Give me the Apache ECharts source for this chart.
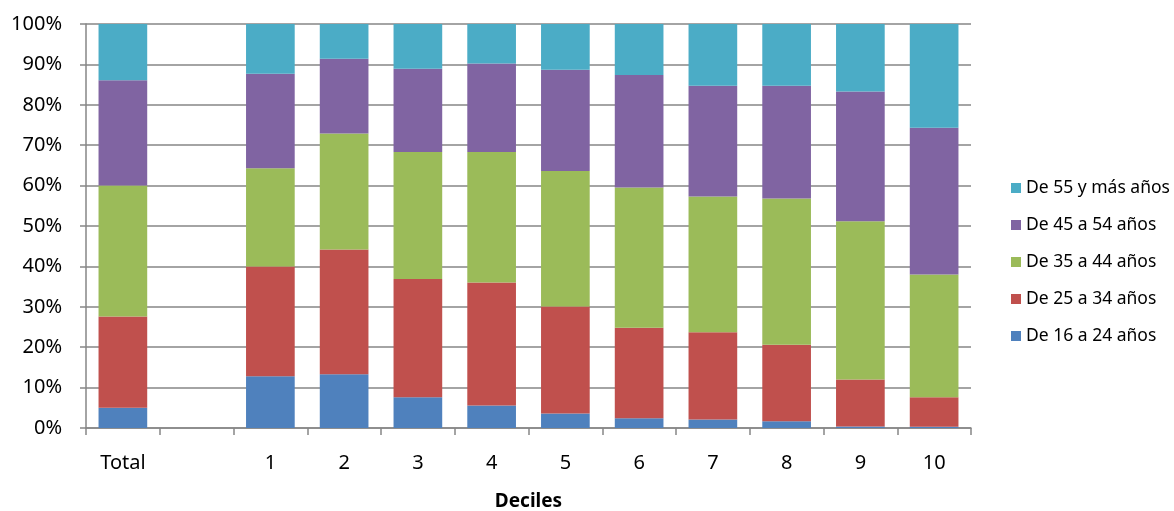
<!DOCTYPE html>
<html>
<head>
<meta charset="utf-8">
<script src="https://cdn.jsdelivr.net/npm/echarts@6/dist/echarts.min.js"></script>
<style>
html,body{margin:0;padding:0;background:#fff;}
#chart{width:1174px;height:511px;}
</style>
</head>
<body>
<div id="chart"></div>
<script>
const categories = ['Total', '', '1', '2', '3', '4', '5', '6', '7', '8', '9', '10'];
const yTickLabels = ['0%', '10%', '20%', '30%', '40%', '50%', '60%', '70%', '80%', '90%', '100%'];
const seriesNames = ['De 16 a 24 años', 'De 25 a 34 años', 'De 35 a 44 años', 'De 45 a 54 años', 'De 55 y más años'];
const age16_24 = [5.0, null, 12.8, 13.3, 7.6, 5.6, 3.6, 2.4, 2.1, 1.7, 0.4, 0.3];
const age25_34 = [22.6, null, 27.2, 30.9, 29.3, 30.4, 26.5, 22.4, 21.6, 18.9, 11.6, 7.3];
const age35_44 = [32.4, null, 24.3, 28.7, 31.4, 32.3, 33.5, 34.7, 33.6, 36.2, 39.2, 30.4];
const age45_54 = [26.1, null, 23.4, 18.5, 20.6, 21.9, 25.1, 27.9, 27.4, 27.9, 32.1, 36.3];
const age55plus = [13.9, null, 12.3, 8.6, 11.1, 9.8, 11.3, 12.6, 15.3, 15.3, 16.7, 25.7];
const seriesData = [age16_24, age25_34, age35_44, age45_54, age55plus];
const colors = ['#4F81BD', '#C0504D', '#9BBB59', '#8064A2', '#4BACC6'];

const chart = echarts.init(document.getElementById('chart'), null, {renderer: 'canvas'});
const font = 'Noto Sans';
chart.setOption({
  animation: false,
  backgroundColor: '#ffffff',
  grid: {left: 86, right: 203, top: 24, bottom: 83, containLabel: false, outerBoundsMode: 'none'},
  legend: {
    orient: 'vertical',
    left: 1006,
    top: 173,
    itemWidth: 10,
    itemHeight: 10,
    itemGap: 17,
    icon: 'rect',
    data: seriesNames.slice().reverse(),
    textStyle: {fontFamily: font, fontSize: 17.5, color: '#000', lineHeight: 20}
  },
  xAxis: {
    type: 'category',
    data: categories,
    name: 'Deciles',
    nameLocation: 'middle',
    nameGap: 64,
    nameTextStyle: {fontFamily: font, fontSize: 19, fontWeight: 'bold', color: '#000'},
    axisLine: {show: true, lineStyle: {color: '#868686', width: 1.5}},
    axisTick: {show: true, length: 7, lineStyle: {color: '#868686', width: 1.5}},
    axisLabel: {fontFamily: font, fontSize: 20, color: '#000', margin: 25}
  },
  yAxis: {
    type: 'value',
    min: 0,
    max: 100,
    interval: 10,
    axisLine: {show: true, lineStyle: {color: '#868686', width: 1.5}},
    axisTick: {show: true, length: 6, lineStyle: {color: '#868686', width: 1.5}},
    splitLine: {show: true, lineStyle: {color: '#868686', width: 1.5}},
    axisLabel: {
      fontFamily: font, fontSize: 20, color: '#000', margin: 24,
      formatter: function (v) { return yTickLabels[Math.round(v / 10)]; }
    }
  },
  series: seriesNames.map(function (name, i) {
    return {
      name: name,
      type: 'bar',
      stack: 'total',
      barWidth: '66%',
      itemStyle: {color: colors[i]},
      data: seriesData[i]
    };
  })
});
</script>
</body>
</html>
